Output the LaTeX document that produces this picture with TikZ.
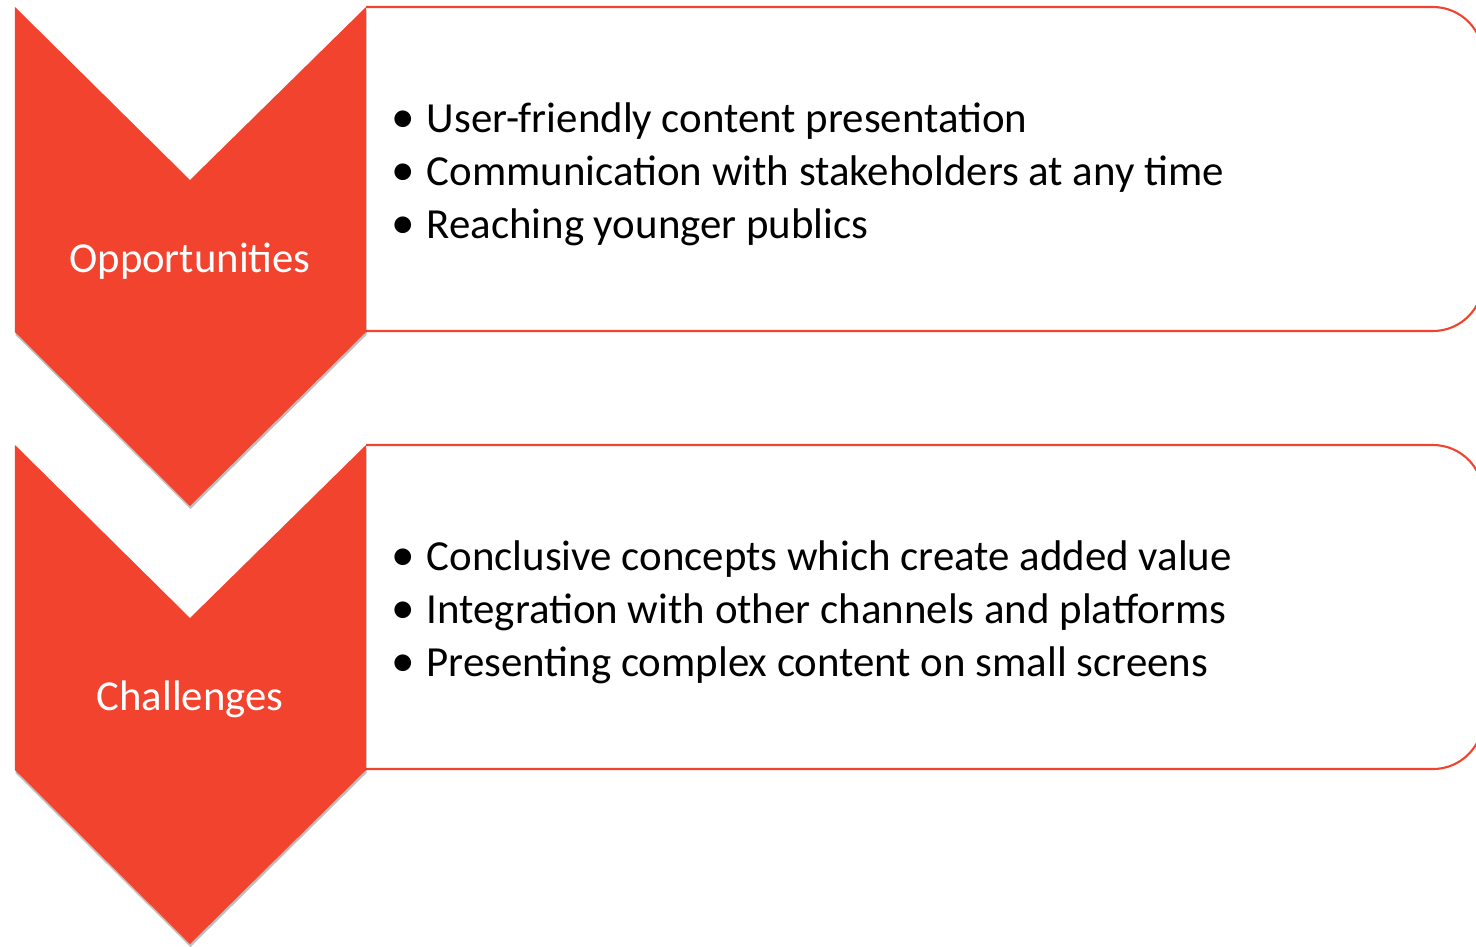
\documentclass[tikz,border=0pt]{standalone}
\usepackage{fontspec}
\setmainfont{Carlito}
\usetikzlibrary{shadows}
\definecolor{chevred}{RGB}{242,67,47}

\tikzset{
    chevron/.style={fill=chevred, draw=none,
        drop shadow={shadow xshift=0.005cm, shadow yshift=-0.03cm, fill=black, opacity=0.25}},
    itembox/.style={draw=chevred, line width=0.6pt, rounded corners=0.5cm},
    chevlabel/.style={text=white, font=\fontsize{12.15}{14}\selectfont},
    itemline/.style={anchor=west, inner sep=0pt, font=\fontsize{12.2}{15}\selectfont}
}
\newcommand{\bul}{\makebox[0.35cm][l]{\scalebox{1.1}{\textbullet}}}

\begin{document}
\begin{tikzpicture}
    \useasboundingbox (0,0) rectangle (14.76,-9.46);
    \clip (0,0) rectangle (14.76,-9.46);
    % Boxes
    \draw[itembox] (3.66,-0.07) -- (14.83,-0.07) -- (14.83,-3.31) -- (3.66,-3.31);
    \draw[itembox] (3.66,-4.45) -- (14.83,-4.45) -- (14.83,-7.69) -- (3.66,-7.69);
    % Chevrons
    \draw[chevron] (0.15,-0.07) -- (1.90,-1.80) -- (3.66,-0.07) -- (3.66,-3.32)
        -- (1.90,-5.06) -- (0.15,-3.32) -- cycle;
    \draw[chevron] (0.15,-4.45) -- (1.90,-6.18) -- (3.66,-4.45) -- (3.66,-7.70)
        -- (1.90,-9.44) -- (0.15,-7.70) -- cycle;
    \node[chevlabel] (opp) at (1.90,-2.61) {Opportunities};
    \node[chevlabel] (chal) at (1.90,-6.99) {Challenges};
    % Opportunities
    \node[itemline] (opp1) at (3.91,-1.21) {\bul User-friendly content presentation};
    \node[itemline] (opp2) at (3.91,-1.74) {\bul Communication with stakeholders at any time};
    \node[itemline] (opp3) at (3.91,-2.27) {\bul Reaching younger publics};
    % Challenges
    \node[itemline] (chal1) at (3.91,-5.59) {\bul Conclusive concepts which create added value};
    \node[itemline] (chal2) at (3.91,-6.12) {\bul Integration with other channels and platforms};
    \node[itemline] (chal3) at (3.91,-6.65) {\bul Presenting complex content on small screens};
\end{tikzpicture}
\end{document}
